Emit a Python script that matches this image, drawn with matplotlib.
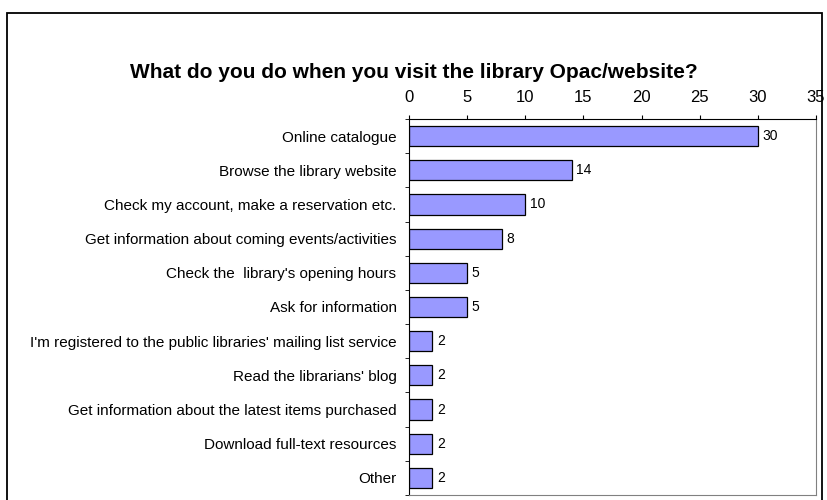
import matplotlib
matplotlib.use("Agg")
import matplotlib.pyplot as plt
from matplotlib.patches import Rectangle
from matplotlib.ticker import FixedLocator
import numpy as np

plt.rcParams['font.family'] = ['Liberation Sans', 'DejaVu Sans']

categories = [
    "Online catalogue",
    "Browse the library website",
    "Check my account, make a reservation etc.",
    "Get information about coming events/activities",
    "Check the  library's opening hours",
    "Ask for information",
    "I'm registered to the public libraries' mailing list service",
    "Read the librarians' blog",
    "Get information about the latest items purchased",
    "Download full-text resources",
    "Other",
]
counts = [30, 14, 10, 8, 5, 5, 2, 2, 2, 2, 2]
x_ticks = [0, 5, 10, 15, 20, 25, 30, 35]

fig = plt.figure(figsize=(8.27, 5.0), dpi=100)
# outer chart border
fig.patches.append(Rectangle((7 / 827, -0.01), 815 / 827, 1 - 13 / 500 + 0.01,
                             transform=fig.transFigure, fill=False,
                             edgecolor='black', linewidth=1.3))

ax = fig.add_axes([409 / 827, 5 / 500, (816 - 409) / 827, (381 - 5) / 500])
y = np.arange(len(categories))
ax.barh(y, counts, height=0.59, color='#9999FF', edgecolor='black', linewidth=0.9)
for yi, v in zip(y, counts):
    ax.text(v + 0.4, yi, str(v), va='center', ha='left', fontsize=10)

ax.set_xlim(0, 35)
ax.set_ylim(len(categories) - 0.5, -0.5)
ax.xaxis.tick_top()
ax.set_xticks(x_ticks)
ax.tick_params(axis='x', direction='out', length=3, pad=7, labelsize=12, color='black')
ax.set_yticks(y)
ax.set_yticklabels(categories, fontsize=11)
ax.tick_params(axis='y', which='major', length=0, pad=9)
ax.yaxis.set_minor_locator(FixedLocator(np.arange(-0.5, len(categories), 1.0)))
ax.tick_params(axis='y', which='minor', length=3, direction='out', color='black')

ax.spines['left'].set_color('black')
ax.spines['top'].set_color('black')
ax.spines['right'].set_color('#808080')
ax.spines['bottom'].set_color('#808080')

fig.text(0.5, 1 - 73 / 500, "What do you do when you visit the library Opac/website?",
         ha='center', va='center', fontsize=15, fontweight='bold')

fig.savefig("out.png", dpi=100)
